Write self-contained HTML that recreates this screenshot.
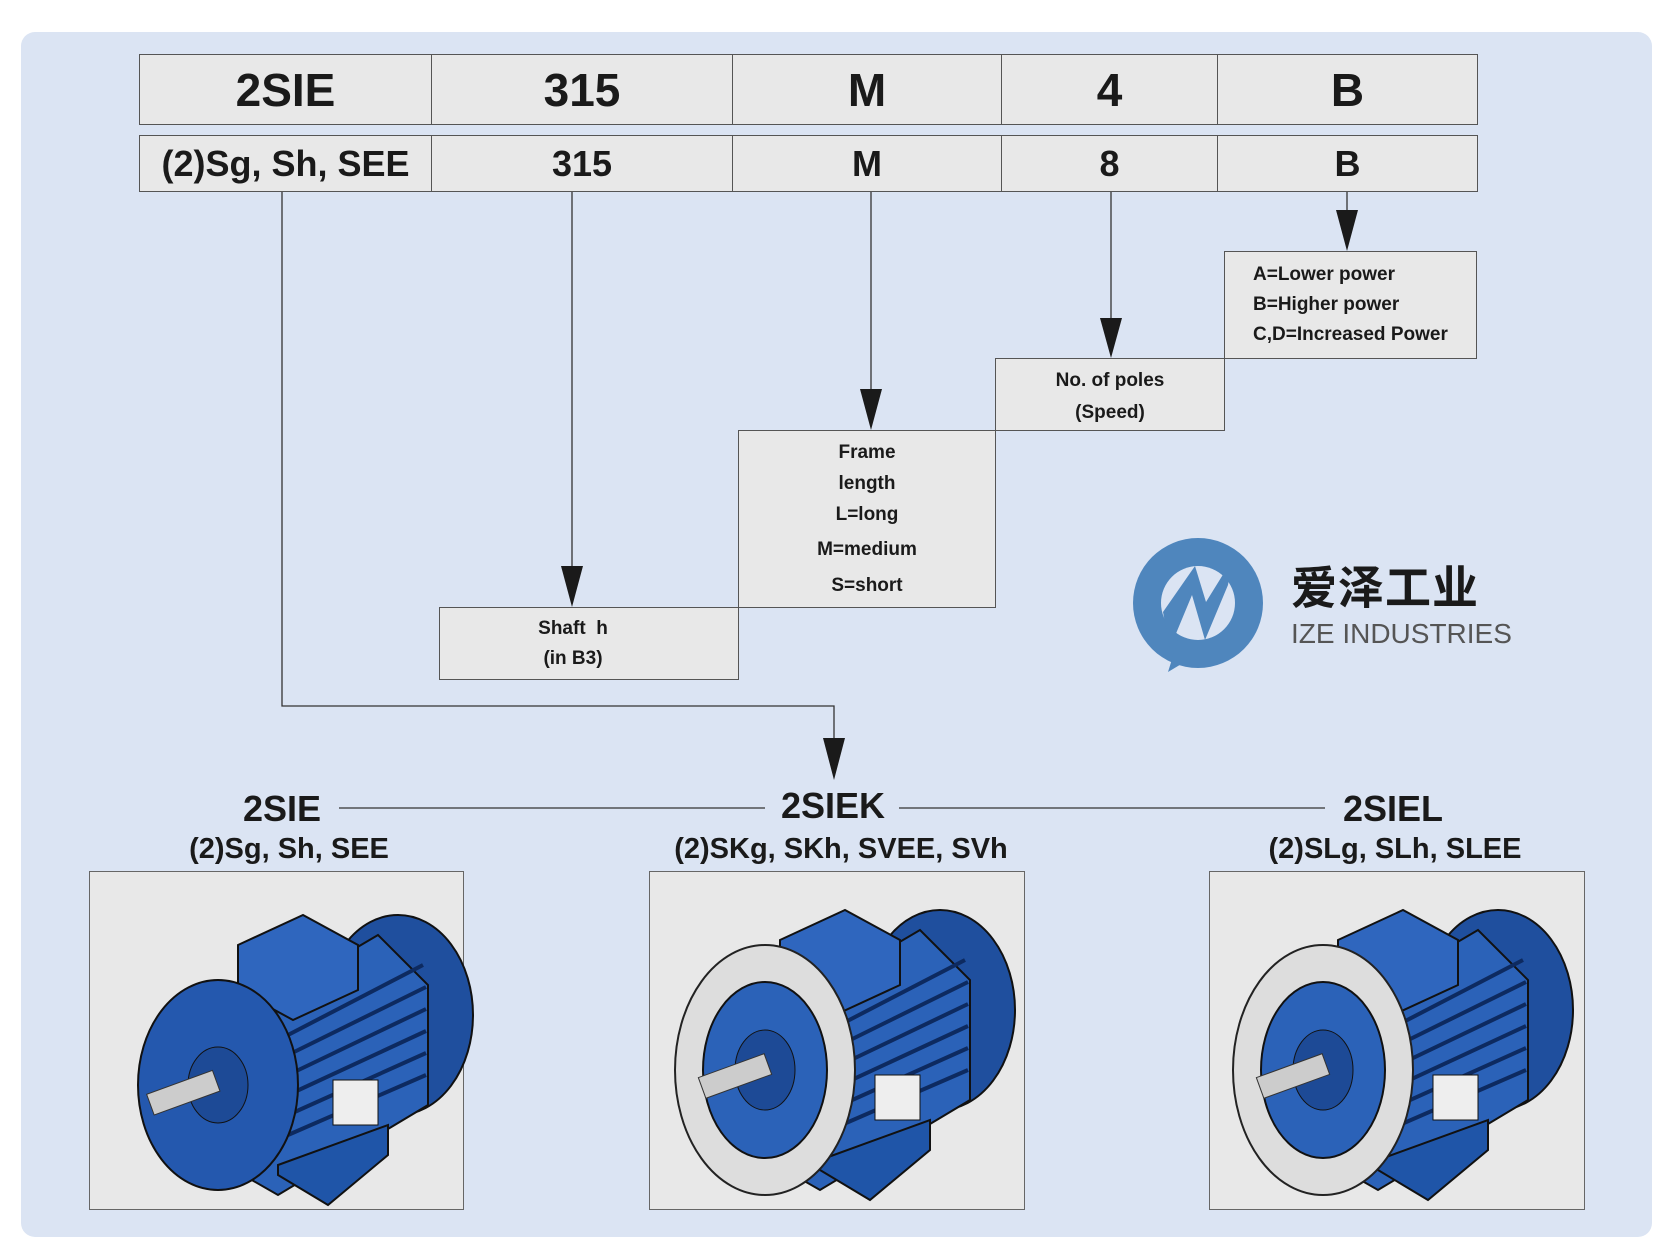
<!DOCTYPE html>
<html><head><meta charset="utf-8"><style>
html,body{margin:0;padding:0;background:#fff;}
body{width:1662px;height:1254px;position:relative;overflow:hidden;font-family:"Liberation Sans",sans-serif;}
.bg{position:absolute;left:21px;top:32px;width:1631px;height:1205px;background:#dbe4f3;border-radius:14px;}
.c{position:absolute;background:#e8e8e8;border:1px solid #555;box-sizing:border-box;display:flex;align-items:center;justify-content:center;font-weight:bold;color:#1a1a1a;}
.r1{font-size:46px;}
.r2{font-size:36px;}
.bx{position:absolute;background:#e8e8e8;border:1px solid #555;box-sizing:border-box;font-family:"Liberation Sans Narrow","Liberation Sans",sans-serif;font-weight:bold;font-size:19px;color:#1a1a1a;text-align:center;}
.t{position:absolute;font-weight:bold;color:#1a1a1a;text-align:center;white-space:nowrap;}
.panel{position:absolute;background:#e8e8e8;border:1px solid #666;box-sizing:border-box;}
</style></head><body>
<div class="bg"></div>
<div class="c r1" style="left:139px;top:54px;width:293px;height:71px;">2SIE</div>
<div class="c r1" style="left:431px;top:54px;width:302px;height:71px;">315</div>
<div class="c r1" style="left:732px;top:54px;width:270px;height:71px;">M</div>
<div class="c r1" style="left:1001px;top:54px;width:217px;height:71px;">4</div>
<div class="c r1" style="left:1217px;top:54px;width:261px;height:71px;">B</div>
<div class="c r2" style="left:139px;top:135px;width:293px;height:57px;">(2)Sg, Sh, SEE</div>
<div class="c r2" style="left:431px;top:135px;width:302px;height:57px;">315</div>
<div class="c r2" style="left:732px;top:135px;width:270px;height:57px;">M</div>
<div class="c r2" style="left:1001px;top:135px;width:217px;height:57px;">8</div>
<div class="c r2" style="left:1217px;top:135px;width:261px;height:57px;">B</div>

<div class="bx" style="left:1224px;top:251px;width:253px;height:108px;text-align:left;padding:8px 0 0 28px;line-height:30px;">A=Lower power<br>B=Higher power<br>C,D=Increased Power</div>
<div class="bx" style="left:995px;top:358px;width:230px;height:73px;padding-top:6px;line-height:32px;">No. of poles<br>(Speed)</div>
<div class="bx" style="left:738px;top:430px;width:258px;height:178px;padding-top:6px;line-height:31px;">Frame<br>length<br>L=long<br><span style="line-height:40px">M=medium</span><br>S=short</div>
<div class="bx" style="left:439px;top:607px;width:300px;height:73px;padding:6px 32px 0 0;line-height:30px;">Shaft&nbsp;&nbsp;h<br>(in B3)</div>

<svg style="position:absolute;left:0;top:0" width="1662" height="1254">
<g stroke="#333" stroke-width="1.3" fill="none">
<polyline points="282,192 282,706 834,706 834,740"/>
<line x1="572" y1="192" x2="572" y2="566"/>
<line x1="871" y1="192" x2="871" y2="390"/>
<line x1="1111" y1="192" x2="1111" y2="318"/>
<line x1="1347" y1="192" x2="1347" y2="212"/>
<line x1="339" y1="808" x2="765" y2="808"/>
<line x1="899" y1="808" x2="1325" y2="808"/>
</g>
<g fill="#1a1a1a">
<polygon points="561,566 583,566 572,607"/>
<polygon points="860,389 882,389 871,430"/>
<polygon points="1100,318 1122,318 1111,358"/>
<polygon points="1336,210 1358,210 1347,251"/>
<polygon points="823,738 845,738 834,780"/>
</g>
<circle cx="1198" cy="603" r="65" fill="#4f86bd"/>
<circle cx="1198" cy="603" r="37" fill="#dbe4f3"/>
<polygon points="1170,648 1192,595 1205,640 1228,585 1232,560 1206,602 1195,566 1163,612" fill="#4f86bd"/>
<polygon points="1168,672 1188,660 1178,640" fill="#4f86bd"/>
</svg>
<div class="t" style="left:1291px;top:556px;font-family:'Noto Sans CJK SC',sans-serif;font-size:46px;line-height:58px;letter-spacing:1px;">爱泽工业</div>
<div class="t" style="left:1291px;top:617px;font-size:28px;font-weight:normal;color:#555;line-height:34px;">IZE INDUSTRIES</div>

<div class="t" style="left:202px;top:788px;width:160px;font-size:36px;line-height:42px;">2SIE</div>
<div class="t" style="left:753px;top:785px;width:160px;font-size:36px;line-height:42px;">2SIEK</div>
<div class="t" style="left:1313px;top:788px;width:160px;font-size:36px;line-height:42px;">2SIEL</div>
<div class="t" style="left:139px;top:832px;width:300px;font-size:29px;line-height:34px;">(2)Sg, Sh, SEE</div>
<div class="t" style="left:641px;top:832px;width:400px;font-size:29px;line-height:34px;">(2)SKg, SKh, SVEE, SVh</div>
<div class="t" style="left:1195px;top:832px;width:400px;font-size:29px;line-height:34px;">(2)SLg, SLh, SLEE</div>

<div class="panel" style="left:89px;top:871px;width:375px;height:339px;"></div>
<div class="panel" style="left:649px;top:871px;width:376px;height:339px;"></div>
<div class="panel" style="left:1209px;top:871px;width:376px;height:339px;"></div>
<svg style="position:absolute;left:0;top:0" width="1662" height="1254">
<defs>
<g id="m">
 <ellipse cx="270" cy="110" rx="75" ry="100" fill="#1f4f9e" stroke="#111" stroke-width="2"/>
 <path d="M80,130 L250,30 L300,80 L300,200 L150,290 L80,250 Z" fill="#2b62b8" stroke="#111" stroke-width="2"/>
 <g stroke="#0d2a60" stroke-width="4">
  <line x1="160" y1="130" x2="295" y2="60"/><line x1="160" y1="150" x2="298" y2="82"/>
  <line x1="160" y1="170" x2="298" y2="104"/><line x1="160" y1="190" x2="298" y2="126"/>
  <line x1="160" y1="210" x2="298" y2="148"/><line x1="160" y1="230" x2="298" y2="170"/>
 </g>
 <path d="M110,40 L175,10 L230,40 L230,85 L165,115 L110,85 Z" fill="#2f66be" stroke="#111" stroke-width="2"/>
 <rect x="205" y="175" width="45" height="45" fill="#eee" stroke="#111"/>
 <path d="M150,270 L200,300 L260,250 L260,220 L150,260 Z" fill="#1f55a8" stroke="#111" stroke-width="2"/>
</g>
</defs>
<g transform="translate(128,905)">
 <use href="#m"/>
 <ellipse cx="90" cy="180" rx="80" ry="105" fill="#2458ae" stroke="#111" stroke-width="2"/>
 <ellipse cx="90" cy="180" rx="30" ry="38" fill="#1d4a96" stroke="#111"/>
 <rect x="20" y="175" width="70" height="22" fill="#ccc" stroke="#333" transform="rotate(-20 60 186)"/>
</g>
<g transform="translate(670,900)">
 <use href="#m"/>
 <ellipse cx="95" cy="170" rx="90" ry="125" fill="#ddd" stroke="#222" stroke-width="2"/>
 <ellipse cx="95" cy="170" rx="62" ry="88" fill="#2b62b8" stroke="#111" stroke-width="2"/>
 <ellipse cx="95" cy="170" rx="30" ry="40" fill="#1d4a96" stroke="#111"/>
 <rect x="30" y="165" width="70" height="22" fill="#ccc" stroke="#333" transform="rotate(-20 65 176)"/>
</g>
<g transform="translate(1228,900)">
 <use href="#m"/>
 <ellipse cx="95" cy="170" rx="90" ry="125" fill="#ddd" stroke="#222" stroke-width="2"/>
 <ellipse cx="95" cy="170" rx="62" ry="88" fill="#2b62b8" stroke="#111" stroke-width="2"/>
 <ellipse cx="95" cy="170" rx="30" ry="40" fill="#1d4a96" stroke="#111"/>
 <rect x="30" y="165" width="70" height="22" fill="#ccc" stroke="#333" transform="rotate(-20 65 176)"/>
</g>
</svg>
</body></html>
